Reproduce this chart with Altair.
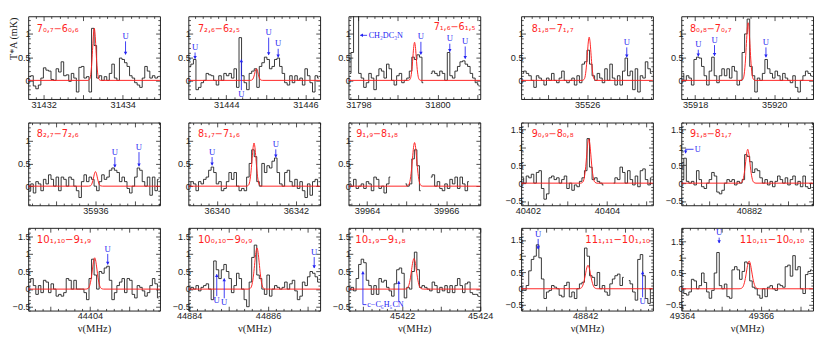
import math
import altair as alt
import pandas as pd

SANS = "Liberation Sans"
SERIF = "Liberation Serif"
INK = "#1c1c1c"
RED = "#ff1f1f"
BLUE = "#2424f2"

W, H = 137, 86

# frequency window (MHz) and intensity window (mK) of each panel
X_LO = [31431.61, 31443.04, 31797.75, 35524.33, 35917.65,
        35934.30, 36339.28, 39963.53, 40401.83, 40880.29,
        44402.44, 44883.98, 45420.62, 48840.38, 49363.98]
X_HI = [31434.94, 31446.37, 31801.08, 35527.66, 35920.98,
        35937.63, 36342.61, 39966.86, 40405.16, 40883.62,
        44405.77, 44887.32, 45424.00, 48843.71, 49367.32]
Y_LO = [-0.40, -0.40, -0.40, -0.40, -0.40,
        -0.42, -0.42, -0.42, -0.62, -0.62,
        -0.61, -0.61, -0.61, -0.67, -0.69]
Y_HI = [1.38, 1.38, 1.38, 1.38, 1.38,
        1.40, 1.40, 1.40, 1.70, 1.70,
        1.74, 1.74, 1.74, 1.87, 1.93]

# observed spectra (T*A, mK), one value per channel across the window; None = blanked
SPEC_01 = [0.08, 0.1, -0.12, -0.18, -0.1, 0.05, 0.27, 0.22, 0.2, 0.02, 0.0, 0.25, 0.18, 0.4, 0.1, 0.12, -0.02, 0.15, 0.05, -0.25,
           0.28, 0.3, 0.05, 0.08, -0.25, 1.12, 0.75, 0.05, 0.1, 0.0, 0.08, 0.0, 0.15, 0.35, 0.05, 0.0, 0.48, 0.45, 0.38, 0.3,
           0.1, 0.05, -0.05, -0.1, -0.15, 0.05, 0.3, 0.2, 0.05, 0.1, 0.05, 0.08]
SPEC_02 = [0.3, 0.35, 0.45, -0.2, -0.15, -0.05, 0.0, 0.15, 0.12, 0.1, 0.0, -0.1, 0.1, 0.0, 0.15, 0.1, 0.15, 0.05, 0.25, -0.15,
           0.92, 0.1, -0.05, -0.2, 0.15, 0.2, 0.25, -0.15, 0.3, 0.38, 0.5, 0.45, 0.25, 0.3, 0.45, 0.48, 0.3, 0.15, -0.05, -0.1,
           0.1, -0.05, 0.1, 0.0, 0.05, -0.1, 0.25, 0.1, -0.05, -0.25, 0.1, 0.05]
SPEC_03 = [0.15, 0.6, 1.6, 1.5, 0.15, 0.05, -0.15, -0.05, 0.15, 0.05, -0.2, 0.1, 0.25, 0.2, 0.05, 0.35, 0.25, 0.0, -0.1, 0.1,
           0.15, -0.05, 0.0, 0.05, 0.2, 0.5, 0.45, 0.55, 0.5, -0.05, None, None, 0.15, 0.2, 0.15, 0.1, 0.2, 0.15, 0.0, 0.6,
           0.1, 0.05, 0.2, 0.3, 0.4, 0.42, 0.35, 0.3, 0.15, 0.05, -0.05, -0.1]
SPEC_04 = [0.15, 0.2, 0.15, 0.1, 0.0, -0.15, 0.1, 0.05, 0.0, -0.1, 0.05, 0.0, 0.15, 0.0, -0.05, 0.05, 0.2, 0.0, -0.05, 0.0,
           0.05, -0.1, 0.1, -0.05, 0.35, 0.4, 0.65, 0.35, 0.1, 0.0, 0.15, 0.05, -0.05, 0.25, 0.0, 0.35, 0.05, -0.1, 0.1, -0.1,
           0.2, 0.48, 0.1, 0.2, -0.2, 0.25, -0.25, 0.1, 0.05, 0.4, 0.25, 0.15]
SPEC_05 = [0.15, 0.0, 0.1, 0.05, -0.1, 0.45, 0.5, 0.48, 0.3, 0.1, -0.1, 0.2, 0.5, 0.1, -0.05, 0.1, 0.25, 0.1, 0.25, 0.05,
           0.3, 0.2, -0.1, 0.0, 0.6, 1.0, 1.32, 0.3, 0.1, -0.25, 0.05, 0.0, 0.15, 0.45, 0.25, 0.15, 0.05, 0.2, 0.1, 0.0,
           0.15, 0.05, 0.0, -0.05, 0.1, -0.15, -0.25, 0.0, 0.1, 0.2, 0.15, 0.1]
SPEC_06 = [-0.1, 0.05, -0.15, 0.1, 0.05, -0.1, 0.15, 0.05, 0.25, 0.15, 0.0, 0.2, -0.1, 0.2, 0.15, 0.0, 0.2, 0.15, 0.0, -0.1,
           -0.25, 0.1, 0.25, 0.1, 0.2, 0.15, 0.0, -0.1, 0.1, 0.25, 0.15, 0.2, 0.35, 0.4, 0.35, 0.3, 0.1, 0.2, 0.1, -0.05,
           -0.15, 0.0, 0.2, 0.4, 0.35, 0.1, 0.0, 0.2, -0.2, 0.2, -0.1, 0.15]
SPEC_07 = [0.0, 0.1, 0.05, -0.1, 0.1, 0.05, 0.15, 0.2, 0.35, 0.42, 0.3, 0.05, 0.1, -0.1, -0.05, 0.1, 0.3, 0.15, 0.3, 0.0,
           -0.1, -0.05, -0.1, 0.2, 0.5, 0.8, 0.65, 0.1, 0.0, 0.5, 0.3, 0.45, 0.4, 0.55, 0.62, 0.3, 0.05, 0.0, 0.3, 0.35,
           0.1, 0.0, 0.15, -0.05, 0.1, -0.1, -0.25, 0.05, -0.2, 0.1, 0.15, 0.0]
SPEC_08 = [0.05, 0.0, 0.15, -0.05, 0.0, 0.05, -0.05, 0.1, 0.05, -0.1, 0.2, 0.15, -0.05, 0.0, -0.15, 0.05, 0.2, None, None, None,
           None, None, 0.05, 0.0, 0.05, 0.6, 0.8, 0.45, -0.1, None, None, None, 0.2, 0.25, 0.0, 0.1, -0.05, -0.1, 0.05, -0.05,
           0.15, 0.05, 0.2, -0.05, 0.2, 0.05, -0.1, 0.1, None, None, None, None]
SPEC_09 = [0.15, 0.0, 0.2, 0.15, 0.25, 0.0, 0.3, 0.35, -0.15, -0.45, -0.3, 0.15, 0.2, 0.1, 0.15, 0.0, 0.1, 0.2, -0.15, 0.0,
           -0.2, -0.05, -0.1, 0.05, 0.15, 0.35, 1.25, 0.45, 0.1, 0.15, 0.05, 0.0, -0.05, None, None, None, 0.0, 0.15, 0.1, 0.45,
           0.3, 0.0, 0.35, 0.1, -0.05, 0.2, -0.1, 0.35, 0.4, 0.1, -0.05, 0.15]
SPEC_10 = [0.1, 0.7, 0.05, 0.0, 0.05, -0.05, 0.35, 0.1, -0.1, -0.15, 0.0, 0.1, 0.3, 0.2, -0.25, -0.3, -0.2, 0.0, 0.1, 0.05,
           0.1, -0.05, 0.05, 0.0, 0.1, 0.8, 0.75, 0.6, 0.3, 0.4, 0.35, 0.15, 0.0, 0.1, -0.05, 0.05, -0.1, 0.05, 0.2, 0.1,
           0.0, 0.15, -0.05, 0.1, 0.2, -0.05, 0.05, -0.1, 0.2, -0.1, -0.15, 0.0]
SPEC_11 = [0.2, 0.3, 0.1, -0.15, 0.1, -0.1, 0.25, 0.2, -0.1, 0.15, 0.0, -0.2, -0.15, -0.2, -0.1, 0.3, 0.25, 0.0, 0.25, 0.0,
           0.0, 0.0, -0.1, -0.3, 0.3, 0.85, 0.4, 0.0, 0.5, 0.45, 0.6, 0.65, 0.25, -0.3, -0.1, 0.1, 0.2, 0.3, -0.1, 0.3,
           0.25, -0.15, -0.25, 0.1, 0.05, -0.05, -0.2, -0.1, 0.1, 0.3, 0.15, -0.25]
SPEC_12 = [0.0, 0.05, 0.0, 0.1, -0.05, 0.05, 0.1, 0.15, 0.0, -0.3, 0.8, 0.55, 0.3, 0.55, 0.7, 0.5, 0.3, -0.1, 0.1, 0.45,
           0.3, 0.0, -0.3, -0.5, 0.2, 0.9, 1.25, 0.4, 0.3, 0.0, -0.15, 0.4, -0.2, 0.0, 0.1, 0.05, 0.0, 0.05, 0.2, 0.0,
           0.15, 0.25, -0.05, -0.3, -0.2, 0.2, 0.1, 0.35, 0.5, 0.45, 0.35, 0.2]
SPEC_13 = [0.0, 0.05, -0.05, 0.3, 0.7, 0.85, 0.75, 0.25, 0.1, -0.15, 0.1, -0.15, 0.3, 0.2, 0.25, 0.05, -0.05, -0.2, 0.15, 0.55,
           0.6, 0.45, -0.25, 0.05, 0.0, 0.5, 1.05, 0.55, 0.05, 0.1, 0.05, 0.0, -0.05, 0.2, 0.1, -0.1, 0.05, -0.05, 0.1, -0.1,
           0.1, -0.1, 0.1, 0.3, 0.1, -0.1, 0.15, 0.2, -0.1, -0.15, -0.15, -0.2]
SPEC_14 = [-0.05, -0.05, 0.1, 0.55, 0.9, 1.0, 1.35, 0.95, 0.3, -0.3, -0.1, -0.05, 0.1, 0.05, 0.0, -0.2, -0.25, 0.1, 0.2, -0.25,
           -0.1, -0.3, 0.0, 0.15, 0.2, 1.25, 1.0, 0.4, 0.35, 0.1, 0.5, 0.0, 0.1, -0.1, -0.2, 0.15, 0.3, 0.4, 0.45, 0.1,
           0.35, None, 0.25, 0.15, -0.1, -0.35, 0.9, 1.05, 0.4, -0.3, -0.45, 0.0]
SPEC_15 = [0.0, -0.15, -0.2, -0.1, 0.3, 0.25, 0.0, 0.1, 0.5, 0.2, -0.1, -0.3, -0.05, 0.5, 1.15, 0.1, 0.0, 0.15, -0.25, -0.3,
           0.6, 0.7, 0.6, 0.3, 0.55, 0.85, 0.8, 0.25, 0.05, 0.0, -0.2, -0.3, 0.0, -0.25, 0.05, 0.1, 0.0, -0.05, 0.15, 0.1,
           0.05, 0.7, 0.75, 0.4, 1.05, 0.6, 0.7, 0.0, -0.15, 0.45, 0.55, 0.6]
SPEC = [SPEC_01, SPEC_02, SPEC_03, SPEC_04, SPEC_05, SPEC_06, SPEC_07, SPEC_08,
        SPEC_09, SPEC_10, SPEC_11, SPEC_12, SPEC_13, SPEC_14, SPEC_15]

# model line of each transition (red): centre, peak, width
LINE_NU = [31433.28, 31444.76, 31799.42, 35526.05, 35919.34, 35936.00, 36340.94, 39965.20,
           40403.54, 40881.97, 44404.12, 44885.72, 45422.30, 48842.07, 49365.70]
LINE_TA = [1.12, 0.25, 0.82, 0.93, 1.24, 0.32, 0.95, 0.96, 1.24, 0.95, 0.89, 1.17, 0.87, 0.72, 0.88]
LINE_FWHM = [0.10, 0.10, 0.10, 0.11, 0.11, 0.11, 0.12, 0.13, 0.13, 0.13, 0.14, 0.14, 0.15, 0.155, 0.16]
PROFILE_U = [-1.6, -1.2, -0.9, -0.6, -0.4, -0.2, 0.0, 0.2, 0.4, 0.6, 0.9, 1.2, 1.6]
PROFILE_V = [0.0, 0.02, 0.11, 0.37, 0.64, 0.89, 1.0, 0.89, 0.64, 0.37, 0.11, 0.02, 0.0]

# transition labels
QN = ["7₀,₇−6₀,₆", "7₂,₆−6₂,₅", "7₁,₆−6₁,₅", "8₁,₈−7₁,₇", "8₀,₈−7₀,₇",
      "8₂,₇−7₂,₆", "8₁,₇−7₁,₆", "9₁,₉−8₁,₈", "9₀,₉−8₀,₈", "9₁,₈−8₁,₇",
      "10₁,₁₀−9₁,₉", "10₀,₁₀−9₀,₉", "10₁,₉−9₁,₈", "11₁,₁₁−10₁,₁₀", "11₀,₁₁−10₀,₁₀"]
QN_SIDE = ["left", "left", "right", "left", "left", "left", "left", "left", "left", "left",
           "left", "left", "left", "right", "right"]
QN_DX = [9, 10, 5, 11, 9, 9, 10, 8, 11, 9, 9, 10, 7, 3, 9]
QN_DY = [13, 13, 11, 13, 13, 12, 12, 12, 12, 12, 13, 13, 13, 13, 13]

# unidentified features: arrows pointing down (label above) and up (label below)
UD_K = [0, 1, 1, 1, 2, 2, 2, 3, 4, 4, 4, 5, 5, 6, 6, 10, 11, 13, 14]
UD_NU = [31434.07, 31443.21, 31445.07, 31445.31, 31799.58, 31800.31, 31800.70, 35527.00, 35918.08, 35918.49,
         35919.79, 35936.49, 35937.10, 36339.88, 36341.49, 44404.45, 44887.17, 48840.81, 49364.94]
UD_TOP = [0.84, 0.60, 0.92, 0.68, 0.83, 0.79, 0.73, 0.71, 0.66, 0.76, 0.71, 0.64, 0.75, 0.64, 0.81, 1.00, 0.91, 1.53, 1.62]
UD_TIP = [0.56, 0.47, 0.55, 0.50, 0.56, 0.62, 0.47, 0.50, 0.52, 0.53, 0.50, 0.42, 0.44, 0.46, 0.64, 0.70, 0.60, 1.22, 1.45]
UU_K = [1, 11, 11, 13]
UU_NU = [31444.38, 44884.70, 44884.89, 48843.45]
UU_BOT = [-0.21, -0.20, -0.26, -0.26]
UU_TIP = [0.45, 0.42, 0.30, 0.53]

# other annotations (other species, bent arrow)
SEG_K = [2, 9, 9, 12, 12, 12]
SEG_X1 = [31798.05, 40880.40, 40880.40, 45420.99, 45421.91, 45420.99]
SEG_X2 = [31798.22, 40880.60, 40880.40, 45420.99, 45421.91, 45421.08]
SEG_Y1 = [0.97, 0.95, 0.95, -0.44, -0.36, -0.44]
SEG_Y2 = [0.97, 0.95, 0.84, 0.50, 0.22, -0.44]
HEAD_K = [2, 9, 12, 12]
HEAD_X = [31798.05, 40880.40, 45420.99, 45421.91]
HEAD_Y = [0.97, 0.84, 0.50, 0.22]
HEAD_DIR = ["left", "down", "up", "up"]
SIDE_K = [2, 9, 12]
SIDE_X = [31798.26, 40880.63, 45421.10]
SIDE_Y = [0.97, 0.95, -0.44]
SIDE_T = ["CH₂DC₃N", "U", "c−C₆H₅CN"]

XMAJ = "abs(datum.value - round(datum.value)) < 0.001"
YMAJ = "abs(2 * datum.value - round(2 * datum.value)) < 0.001"
XLAB = "abs(datum.value / 2 - round(datum.value / 2)) < 0.001 ? format(datum.value, 'd') : ''"
YLAB = YMAJ + " ? format(datum.value, '') : ''"


def tick_values(lo, hi, step):
    a = math.ceil(lo / step - 1e-9)
    b = math.floor(hi / step + 1e-9)
    return [round(i * step, 3) for i in range(a, b + 1)]


def tsize(test):
    # inward ticks: long at major, short at minor positions
    return {"expr": "(" + test + ") ? -4.5 : -2.2"}


def panel(k):
    row = k // 5
    xs = alt.Scale(domain=[X_LO[k], X_HI[k]], nice=False, zero=False)
    ys = alt.Scale(domain=[Y_LO[k], Y_HI[k]], nice=False, zero=False)
    xt = tick_values(X_LO[k], X_HI[k], 0.2)
    yt = tick_values(Y_LO[k], Y_HI[k], 0.1)

    common = dict(domain=False, grid=False, tickColor=INK, tickWidth=0.8)
    ax_b = alt.Axis(orient="bottom", values=xt, tickSize=tsize(XMAJ), labelExpr=XLAB,
                    labelFont=SANS, labelFontSize=9.5, labelColor=INK, labelPadding=5,
                    labelFlush=False, labelOverlap=False,
                    title="ν(MHz)" if row == 2 else "", titleFont=SERIF, titleFontSize=11,
                    titleFontWeight="normal", titleColor=INK, titlePadding=0, **common)
    ax_t = alt.Axis(orient="top", values=xt, tickSize=tsize(XMAJ), labels=False, title="",
                    minExtent=0, maxExtent=0, **common)
    ykw = dict(orient="left", values=yt, tickSize=tsize(YMAJ), labelExpr=YLAB,
               labelFont=SANS, labelFontSize=9.5, labelColor=INK, labelPadding=2.5,
               labelOverlap=False, minExtent=19, maxExtent=19, **common)
    if k == 0:
        ax_l = alt.Axis(title="T*A (mK)", titleFont=SERIF, titleFontSize=10.5, titleFontWeight="normal",
                        titleColor=INK, titleAngle=270, titleX=-10, titleY=1, titleAlign="right",
                        titleBaseline="bottom", **ykw)
    else:
        ax_l = alt.Axis(title="", **ykw)
    ax_r = alt.Axis(orient="right", values=yt, tickSize=tsize(YMAJ), labels=False, title="",
                    minExtent=0, maxExtent=0, **common)

    # observed spectrum
    n = len(SPEC[k])
    dch = (X_HI[k] - X_LO[k]) / n
    rows, seg = [], 0
    for i, v in enumerate(SPEC[k]):
        if v is None:
            seg += 1
            continue
        rows.append({"nu": X_LO[k] + (i + 0.5) * dch, "ta": v, "seg": seg})
    sdf = pd.DataFrame(rows)
    obs = alt.Chart(sdf).mark_line(interpolate="step", color=INK, strokeWidth=0.9, clip=True).encode(
        x=alt.X("nu:Q", scale=xs, axis=ax_b),
        y=alt.Y("ta:Q", scale=ys, axis=ax_l),
        detail="seg:N",
    )

    # model
    mx = [X_LO[k]] + [LINE_NU[k] + u * LINE_FWHM[k] for u in PROFILE_U] + [X_HI[k]]
    my = [0.0] + [LINE_TA[k] * v for v in PROFILE_V] + [0.0]
    mdf = pd.DataFrame({"nu": mx, "ta": my})
    mod = alt.Chart(mdf).mark_line(interpolate="monotone", color=RED, strokeWidth=1, clip=True).encode(
        x=alt.X("nu:Q", scale=xs, axis=ax_t),
        y=alt.Y("ta:Q", scale=ys, axis=ax_r),
    )
    layers = [obs, mod]

    # annotation tables
    segs, heads, tdown, tup, side = [], [], [], [], []
    for j in range(len(UD_K)):
        if UD_K[j] == k:
            segs.append({"x1": UD_NU[j], "x2": UD_NU[j], "y1": UD_TOP[j], "y2": UD_TIP[j]})
            heads.append({"x": UD_NU[j], "y": UD_TIP[j], "d": "down"})
            tdown.append({"x": UD_NU[j], "y": UD_TOP[j], "t": "U"})
    for j in range(len(UU_K)):
        if UU_K[j] == k:
            segs.append({"x1": UU_NU[j], "x2": UU_NU[j], "y1": UU_BOT[j], "y2": UU_TIP[j]})
            heads.append({"x": UU_NU[j], "y": UU_TIP[j], "d": "up"})
            tup.append({"x": UU_NU[j], "y": UU_BOT[j], "t": "U"})
    for j in range(len(SEG_K)):
        if SEG_K[j] == k:
            segs.append({"x1": SEG_X1[j], "x2": SEG_X2[j], "y1": SEG_Y1[j], "y2": SEG_Y2[j]})
    for j in range(len(HEAD_K)):
        if HEAD_K[j] == k:
            heads.append({"x": HEAD_X[j], "y": HEAD_Y[j], "d": HEAD_DIR[j]})
    for j in range(len(SIDE_K)):
        if SIDE_K[j] == k:
            side.append({"x": SIDE_X[j], "y": SIDE_Y[j], "t": SIDE_T[j]})

    if segs:
        layers.append(alt.Chart(pd.DataFrame(segs)).mark_rule(color=BLUE, strokeWidth=0.9).encode(
            x=alt.X("x1:Q", scale=xs, axis=None), x2="x2:Q",
            y=alt.Y("y1:Q", scale=ys, axis=None), y2="y2:Q"))
    shapes = {"down": ("triangle-down", -1.2), "up": ("triangle-up", 1.2), "left": ("triangle-left", 0)}
    for d, (shp, yo) in shapes.items():
        hh = [h for h in heads if h["d"] == d]
        if hh:
            xo = 1.2 if d == "left" else 0
            layers.append(alt.Chart(pd.DataFrame(hh)).mark_point(
                shape=shp, filled=True, size=13, color=BLUE, opacity=1, yOffset=yo, xOffset=xo).encode(
                x=alt.X("x:Q", scale=xs, axis=None), y=alt.Y("y:Q", scale=ys, axis=None)))
    if tdown:
        layers.append(alt.Chart(pd.DataFrame(tdown)).mark_text(
            baseline="bottom", align="center", dy=-0.5, font=SERIF, fontSize=9, color=BLUE).encode(
            x=alt.X("x:Q", scale=xs, axis=None), y=alt.Y("y:Q", scale=ys, axis=None), text="t:N"))
    if tup:
        layers.append(alt.Chart(pd.DataFrame(tup)).mark_text(
            baseline="top", align="center", dy=0.5, font=SERIF, fontSize=9, color=BLUE).encode(
            x=alt.X("x:Q", scale=xs, axis=None), y=alt.Y("y:Q", scale=ys, axis=None), text="t:N"))
    if side:
        layers.append(alt.Chart(pd.DataFrame(side)).mark_text(
            baseline="middle", align="left", font=SERIF, fontSize=8.5, color=BLUE).encode(
            x=alt.X("x:Q", scale=xs, axis=None), y=alt.Y("y:Q", scale=ys, axis=None), text="t:N"))

    # transition label
    px = QN_DX[k] if QN_SIDE[k] == "left" else W - QN_DX[k]
    layers.append(alt.Chart(pd.DataFrame({"t": [QN[k]]})).mark_text(
        align=QN_SIDE[k], baseline="middle", font="DejaVu Sans", fontSize=10 if row < 2 else 10.5,
        color=RED).encode(x=alt.value(px), y=alt.value(QN_DY[k]), text="t:N"))

    return alt.layer(*layers).resolve_axis(x="independent", y="independent").properties(width=W, height=H)


panels = [panel(k) for k in range(15)]
chart = alt.concat(*panels, columns=5, spacing={"row": 5.5, "column": 8.5}).properties(
    padding={"left": 0, "top": 0, "right": 0, "bottom": 0}
).configure_view(stroke=INK, strokeWidth=1)

chart.save("out.html", embed_options={"renderer": "svg", "actions": False})
